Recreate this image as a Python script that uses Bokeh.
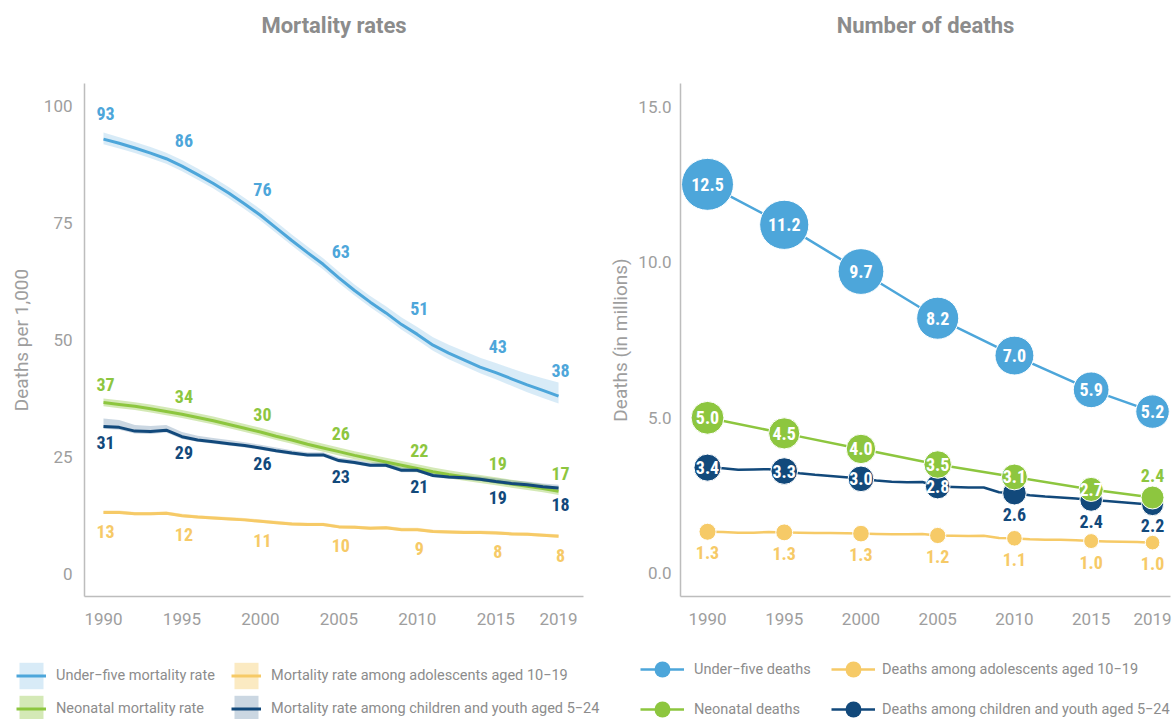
from bokeh.plotting import figure
from bokeh.models import (ColumnDataSource, Range1d, FixedTicker, NumeralTickFormatter,
                          Legend, LegendItem, LabelSet, LinearAxis)
from bokeh.layouts import row, column
from bokeh.embed import file_html
from bokeh.resources import INLINE
from bokeh.core.properties import value
import numpy as np

# ---------------- data ----------------
years = list(range(1990, 2020))
label_years = [1990, 1995, 2000, 2005, 2010, 2015, 2019]

# Mortality rates (deaths per 1,000)
u5_rate = [93.0, 92.1, 91.1, 90.0, 88.8, 87.2, 85.4, 83.5, 81.4, 79.1, 76.7, 74.0, 71.3, 68.7, 66.2,
           63.3, 60.6, 58.1, 55.8, 53.3, 51.2, 48.9, 47.2, 45.7, 44.2, 43.0, 41.7, 40.4, 39.2, 38.0]
u5_rate_hi = [94.4, 93.4, 92.4, 91.3, 90.1, 88.5, 86.7, 84.8, 82.7, 80.4, 78.0, 75.3, 72.6, 70.0, 67.5,
              64.6, 61.9, 59.4, 57.2, 54.8, 52.8, 50.6, 49.0, 47.6, 46.2, 45.1, 43.9, 42.8, 41.8, 40.9]
u5_rate_lo = [91.9, 91.0, 90.0, 88.9, 87.7, 86.1, 84.3, 82.4, 80.3, 78.0, 75.6, 72.9, 70.2, 67.6, 65.1,
              62.2, 59.5, 57.0, 54.7, 52.2, 50.0, 47.7, 45.9, 44.4, 42.9, 41.6, 40.2, 38.8, 37.6, 36.4]

neo_rate = [36.6, 36.2, 35.8, 35.3, 34.7, 34.1, 33.4, 32.7, 31.9, 31.1, 30.3, 29.4, 28.6, 27.7, 26.9,
            26.1, 25.3, 24.6, 23.9, 23.2, 22.5, 21.8, 21.2, 20.7, 20.2, 19.7, 19.2, 18.7, 18.2, 17.6]
neo_rate_hi = [37.5, 37.1, 36.7, 36.2, 35.6, 35.0, 34.3, 33.6, 32.8, 32.0, 31.2, 30.3, 29.5, 28.6, 27.8,
               27.0, 26.2, 25.5, 24.8, 24.1, 23.4, 22.7, 22.1, 21.6, 21.1, 20.6, 20.1, 19.6, 19.1, 18.5]
neo_rate_lo = [35.8, 35.4, 35.0, 34.5, 33.9, 33.3, 32.6, 31.9, 31.1, 30.3, 29.5, 28.6, 27.8, 26.9, 26.1,
               25.3, 24.5, 23.8, 23.1, 22.4, 21.7, 21.0, 20.4, 19.9, 19.4, 18.9, 18.4, 17.9, 17.4, 16.8]

youth_rate = [31.5, 31.3, 30.5, 30.4, 30.7, 29.3, 28.6, 28.2, 27.8, 27.4, 26.9, 26.3, 25.8, 25.4, 25.4,
              24.2, 23.8, 23.2, 23.2, 22.1, 22.1, 21.0, 20.7, 20.5, 20.2, 19.7, 19.3, 19.0, 18.6, 18.3]
youth_rate_hi = [33.2, 32.9, 31.8, 31.6, 31.8, 30.3, 29.5, 29.0, 28.6, 28.1, 27.6, 27.0, 26.4, 26.0, 26.0,
                 24.8, 24.4, 23.8, 23.8, 22.7, 22.7, 21.6, 21.3, 21.1, 20.8, 20.4, 20.0, 19.7, 19.3, 19.0]
youth_rate_lo = [31.0, 30.8, 30.0, 29.9, 30.2, 28.8, 28.2, 27.8, 27.4, 27.0, 26.5, 25.9, 25.4, 25.0, 25.0,
                 23.8, 23.4, 22.8, 22.8, 21.7, 21.7, 20.6, 20.3, 20.1, 19.8, 19.3, 18.9, 18.6, 18.2, 17.9]

adol_rate = [13.1, 13.1, 12.8, 12.8, 12.9, 12.4, 12.1, 11.9, 11.7, 11.5, 11.2, 10.9, 10.6, 10.5, 10.5,
             10.0, 9.9, 9.7, 9.8, 9.4, 9.4, 9.0, 8.9, 8.8, 8.8, 8.7, 8.5, 8.4, 8.2, 8.0]
adol_rate_hi = [13.5, 13.5, 13.2, 13.2, 13.3, 12.8, 12.5, 12.3, 12.1, 11.9, 11.6, 11.3, 11.0, 10.9, 10.9,
                10.4, 10.3, 10.1, 10.2, 9.8, 9.8, 9.4, 9.3, 9.2, 9.2, 9.1, 8.9, 8.8, 8.6, 8.4]
adol_rate_lo = [12.8, 12.8, 12.5, 12.5, 12.6, 12.1, 11.8, 11.6, 11.4, 11.2, 10.9, 10.6, 10.3, 10.2, 10.2,
                9.7, 9.6, 9.4, 9.5, 9.1, 9.1, 8.7, 8.6, 8.5, 8.5, 8.4, 8.2, 8.1, 7.9, 7.7]

u5_rate_labels = ["93", "86", "76", "63", "51", "43", "38"]
neo_rate_labels = ["37", "34", "30", "26", "22", "19", "17"]
youth_rate_labels = ["31", "29", "26", "23", "21", "19", "18"]
adol_rate_labels = ["13", "12", "11", "10", "9", "8", "8"]

# Number of deaths (millions)
u5_deaths = [12.5, 11.2, 9.7, 8.2, 7.0, 5.9, 5.2]
neo_deaths = [5.0, 4.5, 4.0, 3.5, 3.1, 2.7, 2.44]
youth_deaths = [3.40, 3.38, 3.33, 3.34, 3.35, 3.29, 3.22, 3.17, 3.13, 3.09, 3.04, 2.99, 2.95, 2.93, 2.94,
                2.79, 2.78, 2.76, 2.76, 2.61, 2.58, 2.51, 2.47, 2.44, 2.41, 2.36, 2.33, 2.29, 2.25, 2.21]
adol_deaths = [1.34, 1.33, 1.31, 1.31, 1.33, 1.32, 1.31, 1.30, 1.30, 1.29, 1.28, 1.27, 1.26, 1.26, 1.27,
               1.22, 1.21, 1.20, 1.21, 1.14, 1.13, 1.10, 1.08, 1.08, 1.07, 1.04, 1.03, 1.02, 1.01, 0.99]

rate_names = ["Under\u2212five mortality rate", "Neonatal mortality rate",
              "Mortality rate among adolescents aged 10\u221219",
              "Mortality rate among children and youth aged 5\u221224"]
death_names = ["Under\u2212five deaths", "Neonatal deaths",
               "Deaths among adolescents aged 10\u221219",
               "Deaths among children and youth aged 5\u221224"]

# ---------------- style ----------------
BLUE = "#4da6da"
GREEN = "#8dc63f"
NAVY = "#12497b"
YELLOW = "#f6ca67"
AXIS = "#bdbdbd"
TICK = "#9e9e9e"
TITLE = "#8c8c8c"
FONT = "Roboto"
NUM_FONT = "'Liberation Sans Narrow', 'Roboto Condensed', Roboto"

u5_label_pos = ["in"] * 7
neo_label_pos = ["in"] * 6 + ["above"]
youth_label_pos = ["in"] * 4 + ["below"] * 3
adol_label_pos = ["below"] * 7
BUBBLE_K = 14.7  # diameter (px) per sqrt(million deaths)

idx = [years.index(y) for y in label_years]


def style_axes(p, yticks, ylabel, ystandoff, label_standoff, title):
    p.outline_line_color = None
    p.xgrid.visible = False
    p.ygrid.visible = False
    for ax in (p.xaxis[0], p.yaxis[0]):
        ax.axis_line_color = AXIS
        ax.axis_line_width = 1.5
        ax.major_tick_line_color = None
        ax.minor_tick_line_color = None
        ax.major_tick_out = 0
        ax.major_tick_in = 0
        ax.minor_tick_out = 0
        ax.minor_tick_in = 0
        ax.major_label_text_font = FONT
        ax.major_label_text_font_size = "17px"
        ax.major_label_text_color = TICK
    p.xaxis.ticker = FixedTicker(ticks=label_years)
    p.xaxis.major_label_standoff = 16
    p.yaxis.ticker = FixedTicker(ticks=yticks)
    p.yaxis.major_label_standoff = ystandoff
    p.yaxis.axis_label = ylabel
    p.yaxis.axis_label_text_font = FONT
    p.yaxis.axis_label_text_font_style = "normal"
    p.yaxis.axis_label_text_font_size = "19px"
    p.yaxis.axis_label_text_color = TICK
    p.yaxis.axis_label_standoff = label_standoff
    # chart heading, drawn as the label of a bare axis above the frame
    top = LinearAxis(axis_label=title, ticker=FixedTicker(ticks=[]), axis_line_color=None,
                     major_tick_out=0, major_tick_in=0, minor_tick_out=0, minor_tick_in=0,
                     major_label_standoff=0, axis_label_standoff=46,
                     axis_label_text_font=FONT, axis_label_text_font_size="22px",
                     axis_label_text_font_style="bold", axis_label_text_color=TITLE)
    p.add_layout(top, "above")


def add_labels(p, xs, ys, texts, color, size, dy, dx=0):
    if not xs:
        return
    src = ColumnDataSource(dict(x=xs, y=ys, t=texts))
    p.add_layout(LabelSet(x="x", y="y", text="t", source=src, x_offset=dx, y_offset=dy,
                          text_align="center", text_baseline="middle",
                          text_font=value(NUM_FONT), text_font_size=value(size),
                          text_font_style="bold", text_color=color))


def add_legend(f, items, loc, gw, gh, spacing, standoff):
    lg = Legend(items=items, location=loc, orientation="vertical",
                glyph_width=gw, glyph_height=gh, spacing=spacing, label_standoff=standoff,
                label_height=16, padding=0, margin=0, border_line_color=None,
                background_fill_alpha=0, label_text_font=FONT,
                label_text_font_size="14.5px", label_text_color="#8c8c8c")
    f.add_layout(lg)


# ---------------- left: mortality rates ----------------
p1 = figure(width=598, height=640, output_backend="svg", toolbar_location=None, title=None,
            x_range=Range1d(1988.79, 2020.59), y_range=Range1d(-4.9, 104.9),
            min_border_left=84, min_border_right=15, min_border_top=83, min_border_bottom=44)
style_axes(p1, [0, 25, 50, 75, 100], "Deaths per 1,000", 12, 8, "Mortality rates")

rate_series = [
    (u5_rate, u5_rate_lo, u5_rate_hi, BLUE, 0.22),
    (neo_rate, neo_rate_lo, neo_rate_hi, GREEN, 0.38),
    (adol_rate, adol_rate_lo, adol_rate_hi, YELLOW, 0.4),
    (youth_rate, youth_rate_lo, youth_rate_hi, NAVY, 0.22),
]
for vals, lo, hi, col, a in rate_series:
    p1.varea(x=years, y1=lo, y2=hi, fill_color=col, fill_alpha=a)
for k in [2, 1, 3, 0]:
    vals, lo, hi, col, a = rate_series[k]
    p1.line(x=years, y=vals, line_color=col, line_width=3)

add_labels(p1, label_years, [u5_rate[i] for i in idx], u5_rate_labels, BLUE, "18px", 26, 2)
add_labels(p1, label_years, [neo_rate[i] for i in idx], neo_rate_labels, GREEN, "18px", 18, 2)
add_labels(p1, label_years, [youth_rate[i] for i in idx], youth_rate_labels, NAVY, "18px", -16, 2)
add_labels(p1, label_years, [adol_rate[i] for i in idx], adol_rate_labels, YELLOW, "18px", -19, 2)

# ---------------- right: number of deaths ----------------
p2 = figure(width=577, height=640, output_backend="svg", toolbar_location=None, title=None,
            x_range=Range1d(1988.24, 2020.17), y_range=Range1d(-0.74, 15.74),
            min_border_left=82, min_border_right=5, min_border_top=83, min_border_bottom=44)
style_axes(p2, [0, 5, 10, 15], "Deaths (in millions)", 9, 3, "Number of deaths")
p2.yaxis.formatter = NumeralTickFormatter(format="0.0")

youth_pts = [youth_deaths[i] for i in idx]
adol_pts = [adol_deaths[i] for i in idx]

death_series = [
    ("u5", label_years, u5_deaths, u5_deaths, BLUE, u5_label_pos),
    ("adol", years, adol_deaths, adol_pts, YELLOW, adol_label_pos),
    ("youth", years, youth_deaths, youth_pts, NAVY, youth_label_pos),
    ("neo", label_years, neo_deaths, neo_deaths, GREEN, neo_label_pos),
]
for key, lx, ly, pts, col, pos in death_series:
    p2.line(x=lx, y=ly, line_color=col, line_width=2.5)
    sizes = list(BUBBLE_K * np.sqrt(np.array(pts)))
    p2.scatter(x=label_years, y=pts, size=sizes, fill_color=col, line_color="white",
               line_width=1, marker="circle")

for key, lx, ly, pts, col, pos in death_series:
    texts = [f"{v:.1f}" for v in pts]
    for mode, dy, c in (("in", 0, "white"), ("above", 22, col), ("below", -21, col)):
        sel = [i for i, m in enumerate(pos) if m == mode]
        add_labels(p2, [label_years[i] for i in sel], [pts[i] for i in sel],
                   [texts[i] for i in sel], c, "18px", dy)

# ---------------- legends (own strip below both charts) ----------------
# The key glyphs reuse the series data; the strip's ranges keep them out of view,
# so only the legend swatches show.
lf = figure(width=1175, height=79, output_backend="svg", toolbar_location=None, title=None,
            x_range=Range1d(0, 1), y_range=Range1d(0, 1),
            min_border_left=0, min_border_right=0, min_border_top=0, min_border_bottom=0)
lf.axis.visible = False
lf.grid.visible = False
lf.outline_line_color = None

lkeys = []
for vals, lo, hi, col, a in rate_series:
    b = lf.varea(x=years, y1=lo, y2=hi, fill_color=col, fill_alpha=a)
    ln = lf.line(x=years, y=vals, line_color=col, line_width=3)
    lkeys.append([b, ln])
dkeys = {}
for key, lx, ly, pts, col, pos in death_series:
    ln = lf.line(x=lx, y=ly, line_color=col, line_width=2.5)
    dt = lf.scatter(x=label_years, y=pts, fill_color=col, line_color=None, marker="circle")
    dkeys[key] = [ln, dt]

add_legend(lf, [LegendItem(label=rate_names[0], renderers=lkeys[0]),
                LegendItem(label=rate_names[1], renderers=lkeys[1])], (16, -6), 30, 33, 0, 10)
add_legend(lf, [LegendItem(label=rate_names[2], renderers=lkeys[2]),
                LegendItem(label=rate_names[3], renderers=lkeys[3])], (231, -6), 30, 33, 0, 10)
add_legend(lf, [LegendItem(label=death_names[0], renderers=dkeys["u5"]),
                LegendItem(label=death_names[1], renderers=dkeys["neo"])], (640, -10), 44, 40, -7, 10)
add_legend(lf, [LegendItem(label=death_names[2], renderers=dkeys["adol"]),
                LegendItem(label=death_names[3], renderers=dkeys["youth"])], (831, -10), 44, 40, -7, 7)

layout = column(row(p1, p2), lf)
open("out.html", "w").write(file_html(layout, INLINE))
